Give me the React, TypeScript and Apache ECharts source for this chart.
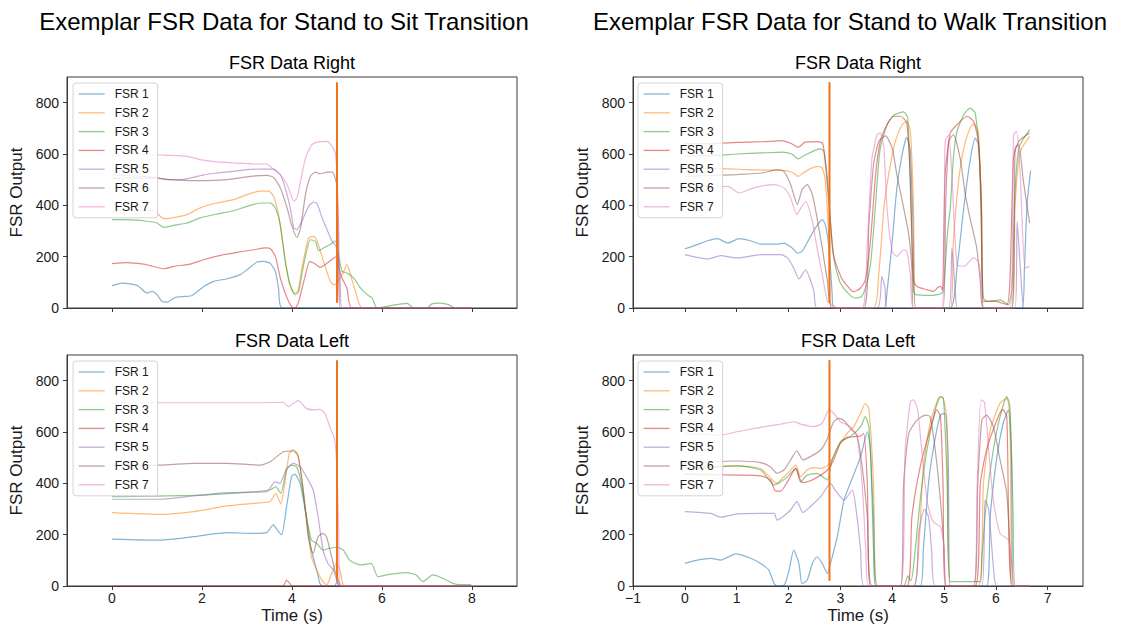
import React, { useEffect, useRef } from 'react';
import * as echarts from 'echarts';

// ---------- labels / ticks ----------
const sensorNames = ['FSR 1', 'FSR 2', 'FSR 3', 'FSR 4', 'FSR 5', 'FSR 6', 'FSR 7'];
const sensorColors = ['#1f77b4', '#ff7f0e', '#2ca02c', '#d62728', '#9467bd', '#8c564b', '#e377c2'];
const suptitles = ['Exemplar FSR Data for Stand to Sit Transition', 'Exemplar FSR Data for Stand to Walk Transition'];
const panelTitles = ['FSR Data Right', 'FSR Data Left'];
const sitTicksX = [0, 2, 4, 6, 8];
const walkTicksX = [-1, 0, 1, 2, 3, 4, 5, 6, 7];
const yTicks = [0, 200, 400, 600, 800];
const sitTransitionTime = 5.0;
const walkTransitionTime = 2.79;
const transitionSpan = [20, 880];

// ---------- Stand to Sit, right foot ----------
const sitR1 = [[0,87],[0.22,97],[0.56,88],[0.78,58],[0.89,65],[1.0,52],[1.11,26],[1.22,23],[1.41,42],[1.63,45],[1.78,49],[2.04,84],[2.26,104],[2.56,114],[2.85,130],[3.0,149],[3.22,179],[3.37,182],[3.52,173],[3.63,143],[3.7,78],[3.78,0],[8.0,0]];
const sitR2 = [[0,375],[0.5,382],[0.96,377],[1.0,370],[1.15,348],[1.3,350],[1.67,364],[1.96,390],[2.33,409],[2.7,422],[3.0,442],[3.3,455],[3.48,455],[3.59,435],[3.7,364],[3.81,234],[3.93,104],[4.04,58],[4.13,65],[4.22,156],[4.37,273],[4.48,279],[4.56,260],[4.7,182],[4.85,104],[4.93,91],[5.0,97],[5.08,120],[5.15,143],[5.22,169],[5.3,130],[5.41,65],[5.56,0],[8.0,0]];
const sitR3 = [[0,344],[0.33,344],[0.78,338],[1.0,331],[1.15,314],[1.37,322],[1.67,331],[1.96,351],[2.33,366],[2.7,379],[3.0,396],[3.3,409],[3.52,409],[3.63,390],[3.74,325],[3.85,182],[3.96,91],[4.07,52],[4.15,65],[4.26,169],[4.41,266],[4.52,260],[4.59,223],[4.7,234],[4.85,247],[4.96,262],[5.03,213],[5.11,143],[5.22,136],[5.37,117],[5.52,78],[5.67,52],[5.78,39],[5.89,0],[6.19,9],[6.33,13],[6.56,18],[6.7,0],[7.0,0],[7.11,16],[7.3,19],[7.48,13],[7.63,0],[8.0,0]];
const sitR4 = [[0,173],[0.33,177],[0.7,171],[0.85,165],[1.15,153],[1.37,162],[1.74,171],[2.04,188],[2.41,205],[2.78,217],[3.15,227],[3.41,234],[3.52,231],[3.63,201],[3.74,117],[3.89,39],[4.0,3],[4.07,0],[4.15,26],[4.3,130],[4.39,182],[4.48,175],[4.63,158],[4.78,175],[4.93,195],[5.0,201],[5.04,160],[5.11,117],[5.22,78],[5.33,0],[8.0,0]];
const sitR5 = [[0,519],[0.5,514],[0.96,509],[1.22,500],[1.52,500],[1.81,509],[2.04,519],[2.33,526],[2.7,532],[3.0,539],[3.3,541],[3.59,541],[3.74,519],[3.85,468],[3.96,390],[4.04,312],[4.11,305],[4.22,338],[4.37,396],[4.48,413],[4.56,405],[4.67,351],[4.78,305],[4.89,260],[4.98,240],[5.03,200],[5.07,104],[5.11,0],[8.0,0]];
const sitR6 = [[0,506],[0.5,506],[0.96,506],[1.33,500],[1.81,496],[2.26,497],[2.7,503],[3.07,513],[3.44,517],[3.59,509],[3.74,468],[3.89,390],[4.0,318],[4.11,275],[4.19,312],[4.3,442],[4.41,513],[4.52,529],[4.63,523],[4.78,529],[4.89,529],[4.96,506],[5.0,468],[5.03,300],[5.06,0],[8.0,0]];
const sitR7 = [[0,592],[0.5,597],[0.96,597],[1.22,595],[1.67,591],[1.96,578],[2.33,569],[2.7,565],[3.15,561],[3.44,561],[3.56,545],[3.74,519],[3.89,481],[4.0,429],[4.04,416],[4.11,429],[4.19,494],[4.3,584],[4.44,636],[4.59,647],[4.78,649],[4.89,630],[4.96,604],[5.0,519],[5.04,300],[5.07,0],[8.0,0]];

// ---------- Stand to Sit, left foot ----------
const sitL1 = [[0,183],[1.07,179],[1.81,192],[2.55,208],[3.14,205],[3.44,208],[3.58,238],[3.7,212],[3.77,199],[3.88,309],[3.99,426],[4.06,436],[4.18,400],[4.32,270],[4.43,140],[4.55,62],[4.62,10],[4.69,0],[4.95,0],[5.0,18],[5.06,0],[8.0,0]];
const sitL2 = [[0,286],[1.07,279],[1.81,290],[2.55,312],[3.14,322],[3.51,329],[3.64,361],[3.75,319],[3.84,400],[3.94,517],[4.03,530],[4.12,517],[4.21,426],[4.32,270],[4.43,114],[4.55,62],[4.66,23],[4.77,5],[4.88,49],[4.99,88],[5.07,60],[5.17,0],[8.0,0]];
const sitL3 = [[0,348],[1.81,353],[2.92,364],[3.51,374],[3.64,387],[3.75,361],[3.88,452],[3.99,471],[4.1,465],[4.21,400],[4.32,270],[4.43,179],[4.55,166],[4.69,140],[4.84,147],[4.99,151],[5.14,140],[5.28,101],[5.51,82],[5.76,88],[5.91,36],[6.17,45],[6.54,52],[6.76,43],[6.91,17],[7.13,43],[7.35,30],[7.58,10],[7.72,5],[7.98,5]];
const sitL4 = [[0,0],[3.8,0],[3.88,23],[3.95,10],[4.0,0],[8.0,0]];
const sitL5 = [[0,338],[1.07,338],[1.81,351],[2.55,364],[3.44,368],[3.62,406],[3.73,400],[3.88,458],[4.03,478],[4.18,465],[4.32,426],[4.47,374],[4.58,270],[4.69,140],[4.8,88],[4.92,62],[5.0,20],[5.06,0],[8.0,0]];
const sitL6 = [[0,471],[1.07,471],[1.81,478],[2.55,478],[3.29,471],[3.51,484],[3.81,523],[4.03,526],[4.14,504],[4.25,374],[4.36,192],[4.47,127],[4.58,192],[4.69,205],[4.77,190],[4.88,114],[4.95,62],[5.03,23],[5.1,0],[8.0,0]];
const sitL7 = [[0,714],[1.81,714],[3.3,714],[3.81,716],[3.92,699],[4.14,722],[4.32,692],[4.51,686],[4.62,688],[4.73,673],[4.84,621],[4.95,569],[5.0,450],[5.04,200],[5.06,0],[8.0,0]];

// ---------- Stand to Walk, right foot ----------
const walkR1 = [[0,231],[0.24,247],[0.44,262],[0.63,270],[0.83,253],[1.05,270],[1.27,262],[1.46,249],[1.78,249],[1.91,253],[2.07,234],[2.17,214],[2.26,221],[2.39,266],[2.52,312],[2.65,344],[2.71,325],[2.78,234],[2.84,60],[2.87,0],[3.84,0],[3.9,65],[4.0,260],[4.09,468],[4.19,597],[4.28,665],[4.35,610],[4.41,260],[4.45,0],[5.12,0],[5.25,156],[5.38,390],[5.5,571],[5.6,662],[5.66,640],[5.72,400],[5.76,0],[6.5,0],[6.55,150],[6.6,400],[6.67,536]];
const walkR2 = [[0,545],[0.4,543],[0.71,543],[1.2,539],[1.87,536],[2.06,530],[2.19,513],[2.26,523],[2.42,543],[2.58,552],[2.65,545],[2.71,497],[2.77,300],[2.83,0],[3.64,0],[3.74,130],[3.84,390],[3.93,519],[4.06,649],[4.19,714],[4.28,727],[4.35,688],[4.41,400],[4.45,0],[5.12,0],[5.18,260],[5.28,494],[5.38,623],[5.5,701],[5.57,717],[5.66,688],[5.72,400],[5.76,0],[6.31,0],[6.37,400],[6.47,610],[6.65,669]];
const walkR3 = [[0,594],[0.5,594],[1.0,600],[1.5,604],[1.87,607],[2.06,600],[2.19,581],[2.3,594],[2.61,620],[2.68,610],[2.74,497],[2.82,303],[2.89,175],[3.0,97],[3.15,57],[3.28,39],[3.41,45],[3.5,90],[3.58,170],[3.64,300],[3.72,520],[3.77,623],[3.9,714],[4.03,751],[4.22,764],[4.3,740],[4.36,400],[4.41,65],[4.45,52],[4.73,49],[4.96,58],[5.0,100],[5.07,300],[5.12,390],[5.18,584],[5.25,688],[5.38,753],[5.5,779],[5.6,760],[5.68,600],[5.73,200],[5.76,39],[5.83,26],[6.08,32],[6.24,13],[6.31,78],[6.37,455],[6.44,623],[6.54,662],[6.65,695]];
const walkR4 = [[0,640],[0.5,640],[1.0,645],[1.5,648],[1.87,652],[2.06,640],[2.19,626],[2.32,646],[2.58,648],[2.66,640],[2.74,523],[2.8,368],[2.86,213],[3.01,122],[3.12,89],[3.25,63],[3.38,76],[3.48,109],[3.58,260],[3.68,519],[3.77,649],[3.9,714],[4.03,747],[4.16,747],[4.28,721],[4.35,500],[4.41,104],[4.48,84],[4.6,75],[4.67,71],[4.8,65],[4.88,80],[4.93,84],[4.97,70],[5.02,519],[5.12,682],[5.25,714],[5.44,747],[5.57,727],[5.66,649],[5.72,400],[5.76,26],[6.0,26],[6.21,13],[6.27,104],[6.34,584],[6.44,649],[6.65,682]];
const walkR5 = [[0,208],[0.44,191],[0.69,204],[1.01,195],[1.46,208],[1.85,208],[1.98,195],[2.1,156],[2.2,113],[2.33,149],[2.42,110],[2.49,65],[2.55,0],[3.71,0],[3.8,123],[3.86,80],[3.9,0],[5.09,0],[5.15,234],[5.22,60],[5.26,0],[6.37,0],[6.41,338],[6.48,130],[6.54,0],[6.65,0]];
const walkR6 = [[0,513],[0.5,516],[1.0,520],[1.5,526],[1.78,539],[1.91,532],[2.04,481],[2.17,403],[2.26,461],[2.36,481],[2.46,442],[2.55,351],[2.65,234],[2.75,104],[2.84,0],[3.45,0],[3.55,325],[3.64,558],[3.74,649],[3.87,671],[4.0,623],[4.09,519],[4.22,390],[4.32,286],[4.38,150],[4.41,0],[4.98,0],[5.03,400],[5.09,649],[5.18,675],[5.31,584],[5.41,442],[5.5,351],[5.63,234],[5.7,100],[5.76,0],[6.3,0],[6.37,623],[6.44,636],[6.53,494],[6.65,331]];
const walkR7 = [[0,450],[0.3,455],[0.6,470],[0.83,474],[1.05,448],[1.33,468],[1.72,481],[1.91,468],[2.04,429],[2.16,364],[2.24,390],[2.33,416],[2.46,338],[2.55,234],[2.65,130],[2.75,26],[2.84,13],[2.94,0],[3.42,0],[3.52,260],[3.61,584],[3.71,675],[3.77,682],[3.84,623],[3.9,390],[4.0,221],[4.09,201],[4.22,227],[4.28,221],[4.35,130],[4.41,0],[4.96,0],[5.02,649],[5.09,675],[5.15,519],[5.25,169],[5.38,162],[5.57,195],[5.66,180],[5.72,100],[5.76,0],[6.27,0],[6.34,675],[6.4,688],[6.47,519],[6.56,156],[6.65,162]];

// ---------- Stand to Walk, left foot ----------
const walkL1 = [[0,88],[0.24,101],[0.5,108],[0.69,101],[0.98,125],[1.27,108],[1.46,88],[1.62,62],[1.72,10],[1.78,0],[1.92,4],[2.01,62],[2.1,140],[2.2,88],[2.26,10],[2.36,23],[2.46,88],[2.55,114],[2.65,88],[2.75,49],[2.81,88],[2.94,192],[3.07,335],[3.19,400],[3.39,504],[3.52,601],[3.58,530],[3.64,140],[3.68,0],[4.54,0],[4.6,140],[4.7,400],[4.8,543],[4.93,666],[5.02,673],[5.08,500],[5.12,0],[5.82,0],[5.89,270],[6.02,504],[6.14,634],[6.24,686],[6.3,500],[6.34,0],[6.65,0]];
const walkL2 = [[0,460],[0.5,465],[1.01,468],[1.46,458],[1.72,406],[1.78,400],[1.85,413],[1.98,439],[2.14,471],[2.23,426],[2.36,452],[2.49,461],[2.62,458],[2.75,469],[2.87,504],[3.0,556],[3.13,595],[3.26,621],[3.39,673],[3.48,712],[3.55,690],[3.64,400],[3.71,0],[4.41,0],[4.51,140],[4.6,465],[4.73,634],[4.89,731],[4.96,738],[5.05,660],[5.12,0],[5.66,0],[5.76,400],[5.89,608],[6.08,712],[6.21,731],[6.27,660],[6.34,0],[6.65,0]];
const walkL3 = [[0,452],[0.69,465],[1.01,468],[1.46,452],[1.72,394],[1.85,406],[1.98,426],[2.14,458],[2.23,406],[2.36,432],[2.55,439],[2.68,422],[2.75,413],[2.84,491],[3.0,562],[3.19,582],[3.39,621],[3.48,660],[3.55,620],[3.64,270],[3.71,0],[4.22,0],[4.3,40],[4.36,20],[4.41,75],[4.54,335],[4.67,530],[4.83,686],[4.93,738],[4.99,730],[5.06,400],[5.12,17],[5.7,17],[5.73,114],[5.82,335],[5.95,530],[6.08,660],[6.21,738],[6.27,700],[6.33,300],[6.37,0],[6.65,0]];
const walkL4 = [[0,436],[1.01,432],[1.46,429],[1.65,413],[1.75,370],[1.85,370],[1.98,406],[2.14,458],[2.26,403],[2.42,410],[2.62,432],[2.75,452],[2.87,491],[3.0,556],[3.13,579],[3.39,584],[3.45,595],[3.52,400],[3.58,0],[4.28,0],[4.38,270],[4.54,465],[4.73,608],[4.86,686],[4.93,660],[4.98,400],[5.02,0],[5.6,0],[5.7,400],[5.82,530],[6.02,647],[6.13,688],[6.21,660],[6.31,0],[6.65,0]];
const walkL5 = [[0,290],[0.5,283],[0.69,268],[1.01,281],[1.46,283],[1.72,283],[1.78,257],[1.91,273],[2.04,296],[2.16,329],[2.28,286],[2.42,309],[2.62,348],[2.81,400],[2.9,374],[3.07,335],[3.23,374],[3.32,270],[3.39,140],[3.45,0],[4.41,0],[4.51,205],[4.62,299],[4.7,270],[4.76,140],[4.83,0],[5.73,0],[5.79,335],[5.86,300],[5.95,80],[6.02,0],[6.65,0]];
const walkL6 = [[0,478],[0.5,484],[1.01,487],[1.46,481],[1.65,465],[1.78,439],[1.91,452],[2.04,491],[2.16,527],[2.28,491],[2.42,504],[2.62,530],[2.75,575],[2.87,640],[2.97,653],[3.07,645],[3.19,614],[3.32,588],[3.42,465],[3.52,270],[3.61,0],[4.16,0],[4.22,400],[4.32,595],[4.48,647],[4.64,666],[4.73,660],[4.83,530],[4.93,335],[5.0,150],[5.04,0],[5.57,0],[5.65,400],[5.73,647],[5.82,666],[5.95,621],[6.08,491],[6.21,361],[6.27,150],[6.32,0],[6.65,0]];
const walkL7 = [[0,595],[0.69,588],[1.01,601],[1.46,618],[1.85,631],[2.1,640],[2.23,631],[2.49,621],[2.65,634],[2.78,686],[2.87,673],[3.0,640],[3.19,621],[3.32,582],[3.42,400],[3.49,140],[3.55,0],[4.16,0],[4.25,530],[4.35,718],[4.41,725],[4.49,686],[4.57,530],[4.67,335],[4.77,257],[4.83,244],[4.93,231],[5.0,150],[5.05,0],[5.57,0],[5.64,400],[5.71,725],[5.78,715],[5.86,530],[5.95,335],[6.08,205],[6.24,179],[6.3,100],[6.37,0],[6.65,0]];

const FONT = '"Liberation Sans", Arial, Helvetica, sans-serif';
const TEXT = '#1a1a1a';
const FRAME = '#3a3a3a';

export default function App() {
  const ref = useRef<HTMLDivElement>(null);

  useEffect(() => {
    if (!ref.current) return;
    const chart = echarts.init(ref.current, null, { renderer: 'svg' });

    const panels = [
      { data: [sitR1, sitR2, sitR3, sitR4, sitR5, sitR6, sitR7], walk: false, bottom: false },
      { data: [walkR1, walkR2, walkR3, walkR4, walkR5, walkR6, walkR7], walk: true, bottom: false },
      { data: [sitL1, sitL2, sitL3, sitL4, sitL5, sitL6, sitL7], walk: false, bottom: true },
      { data: [walkL1, walkL2, walkL3, walkL4, walkL5, walkL6, walkL7], walk: true, bottom: true },
    ];

    const grids = panels.map((p) => ({
      left: p.walk ? 633 : 67,
      top: p.bottom ? 355 : 77,
      width: 450,
      height: 231,
      show: true,
      borderColor: FRAME,
      borderWidth: 1,
      backgroundColor: 'transparent',
      containLabel: false,
    }));

    const fmt = (v: number) => String(v).replace('-', '\u2212');

    const xAxes = panels.map((p, i) => {
      const ticks = p.walk ? walkTicksX : sitTicksX;
      return {
        type: 'value',
        gridIndex: i,
        min: -1,
        max: p.walk ? 7.68 : 9,
        name: p.bottom ? 'Time (s)' : '',
        nameLocation: 'middle',
        nameGap: 21,
        nameTextStyle: { fontSize: 17, fontFamily: FONT, color: TEXT },
        axisLine: { show: true, onZero: false, lineStyle: { color: FRAME, width: 1 } },
        axisTick: { show: true, length: 4, inside: false, customValues: ticks, lineStyle: { color: FRAME } },
        axisLabel: {
          show: p.bottom,
          customValues: ticks,
          fontSize: 14,
          fontFamily: FONT,
          color: TEXT,
          margin: 5,
          formatter: fmt,
        },
        splitLine: { show: false },
      };
    });

    const yAxes = panels.map((p, i) => ({
      type: 'value',
      gridIndex: i,
      min: 0,
      max: 900,
      name: 'FSR Output',
      nameLocation: 'middle',
      nameGap: 42,
      nameTextStyle: { fontSize: 17, fontFamily: FONT, color: TEXT },
      axisLine: { show: true, onZero: false, lineStyle: { color: FRAME, width: 1 } },
      axisTick: { show: true, length: 4, inside: false, customValues: yTicks, lineStyle: { color: FRAME } },
      axisLabel: { customValues: yTicks, fontSize: 14, fontFamily: FONT, color: TEXT, margin: 8 },
      splitLine: { show: false },
    }));

    const series: any[] = [];
    panels.forEach((p, gi) => {
      p.data.forEach((d, k) => {
        series.push({
          type: 'line',
          name: sensorNames[k],
          xAxisIndex: gi,
          yAxisIndex: gi,
          data: d,
          symbol: 'none',
          showSymbol: false,
          silent: true,
          clip: true,
          smooth: 0.2,
          lineStyle: { color: sensorColors[k], width: 1.2, opacity: 0.55 },
          itemStyle: { color: sensorColors[k] },
          emphasis: { disabled: true },
          z: 2,
        });
      });
      const tt = p.walk ? walkTransitionTime : sitTransitionTime;
      series.push({
        type: 'line',
        name: 'transition',
        xAxisIndex: gi,
        yAxisIndex: gi,
        data: [[tt, transitionSpan[0]], [tt, transitionSpan[1]]],
        symbol: 'none',
        showSymbol: false,
        silent: true,
        lineStyle: { color: '#f07318', width: 2 },
        emphasis: { disabled: true },
        z: 3,
      });
    });

    const legends = panels.map((p) => ({
      show: true,
      orient: 'vertical',
      left: p.walk ? 638 : 73,
      top: p.bottom ? 361 : 83,
      data: sensorNames,
      itemWidth: 26,
      itemHeight: 12,
      itemGap: 6.8,
      padding: [5, 9, 5, 5],
      backgroundColor: 'rgba(255,255,255,0.8)',
      borderColor: '#d4d4d4',
      borderWidth: 1,
      borderRadius: 3,
      selectedMode: false,
      itemStyle: { opacity: 0 },
      lineStyle: { width: 1.3, opacity: 0.55 },
      textStyle: { fontSize: 12, fontFamily: FONT, color: TEXT, padding: [0, 0, 0, 5] },
      z: 5,
    }));

    const titleFont = (size: number) => `${size}px ${FONT}`;
    const mk = (x: number, y: number, text: string, size: number) => ({
      type: 'text', x, y, silent: true,
      style: { text, font: titleFont(size), fill: '#000', textAlign: 'center', textVerticalAlign: 'middle' },
    });
    const graphic: any[] = [
      mk(284, 21, suptitles[0], 24),
      mk(850, 21, suptitles[1], 24),
      mk(292, 63, panelTitles[0], 18),
      mk(858, 63, panelTitles[0], 18),
      mk(292, 341, panelTitles[1], 18),
      mk(858, 341, panelTitles[1], 18),
    ];

    chart.setOption({
      animation: false,
      backgroundColor: '#ffffff',
      textStyle: { fontFamily: FONT },
      grid: grids,
      xAxis: xAxes,
      yAxis: yAxes,
      legend: legends,
      series,
      graphic,
    });

    return () => chart.dispose();
  }, []);

  return (
    <div
      ref={ref}
      style={{ position: 'fixed', left: 0, top: 0, width: 1129, height: 629, background: '#fff' }}
    />
  );
}
